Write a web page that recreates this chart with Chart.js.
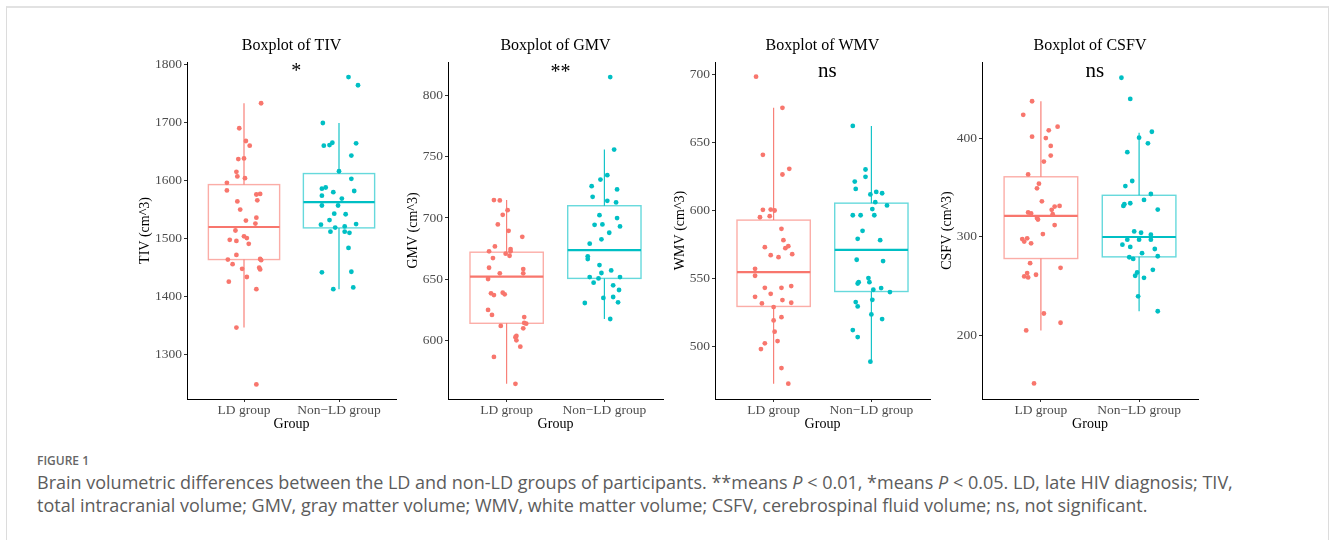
<!DOCTYPE html>
<html>
<head>
<meta charset="utf-8">
<script src="https://cdn.jsdelivr.net/npm/chart.js@4.4.0/dist/chart.umd.min.js"></script>
<style>
  body { margin: 0; background: #fff; width: 1330px; height: 540px; overflow: hidden; position: relative; font-family: "Open Sans", sans-serif; }
  #card { position: absolute; left: 6px; top: 6px; width: 1321px; height: 600px; border: 1px solid #dcdcdc; border-top: 2px solid #e2e2e2; }
  .panel { position: absolute; top: 30px; height: 405px; }
  #fig { position: absolute; left: 37px; top: 452px; font-size: 12px; font-weight: 600; color: #666; }
  #cap { position: absolute; left: 37px; top: 471px; width: 1280px; font-size: 18px; line-height: 23px; color: #5c5c5c; white-space: nowrap; }
</style>
</head>
<body>
<div id="card"></div>
<canvas id="tiv" class="panel" style="left:125px" width="275" height="405"></canvas>
<canvas id="gmv" class="panel" style="left:386px" width="281" height="405"></canvas>
<canvas id="wmv" class="panel" style="left:653px" width="281" height="405"></canvas>
<canvas id="csfv" class="panel" style="left:920px" width="282" height="405"></canvas>
<div id="fig">FIGURE 1</div>
<div id="cap">Brain volumetric differences between the LD and non-LD groups of participants. **means <i>P</i> &lt; 0.01, *means <i>P</i> &lt; 0.05. LD, late HIV diagnosis; TIV,<br>total intracranial volume; GMV, gray matter volume; WMV, white matter volume; CSFV, cerebrospinal fluid volume; ns, not significant.</div>
<script>
const groups = ['LD group', 'Non\u2212LD group'];
const colors = ['#F8766D', '#00BFC4'];
const boxEdge = ['rgba(248,118,109,0.6)', 'rgba(0,191,196,0.6)'];

// TIV
const tivTicks = [1300, 1400, 1500, 1600, 1700, 1800];
const tivLD = [1733, 1690, 1668, 1660, 1637, 1638, 1615, 1607, 1604, 1596, 1583, 1576, 1577, 1564, 1566, 1550, 1536, 1531, 1526, 1514, 1504, 1501, 1498, 1496, 1491, 1472, 1464, 1456, 1465, 1463, 1448, 1450, 1447, 1434, 1426, 1413, 1347, 1249];
const tivLDJit = [0.18, -0.05, 0.02, 0.06, -0.06, 0.0, -0.08, -0.07, 0.01, -0.18, -0.18, 0.13, 0.17, -0.07, 0.14, -0.04, 0.13, 0.02, 0.12, -0.09, 0.0, 0.03, -0.15, -0.08, 0.05, -0.08, -0.17, -0.12, 0.17, 0.18, -0.02, 0.16, 0.17, 0.03, -0.16, 0.13, -0.08, 0.13];
const tivNon = [1778, 1764, 1699, 1660, 1661, 1665, 1664, 1643, 1616, 1603, 1586, 1588, 1580, 1582, 1574, 1569, 1557, 1557, 1543, 1542, 1532, 1524, 1525, 1521, 1519, 1512, 1510, 1512, 1484, 1442, 1443, 1413, 1416];
const tivNonJit = [0.10, 0.20, -0.17, -0.16, -0.10, -0.07, 0.18, 0.13, 0.0, 0.13, -0.18, -0.14, -0.06, 0.16, -0.18, 0.03, -0.18, -0.01, -0.05, 0.07, -0.10, -0.19, 0.18, 0.06, -0.04, 0.06, 0.11, -0.09, 0.10, -0.18, 0.13, -0.06, 0.15];
const tivStats = [[1347, 1464, 1520, 1593, 1733], [1413, 1518.5, 1563, 1612, 1699]];

// GMV
const gmvTicks = [600, 650, 700, 750, 800];
const gmvLD = [714.6, 714.3, 706.4, 702.6, 694.7, 689.5, 684.6, 676.7, 674.6, 672.7, 672.7, 670.8, 669.1, 667.2, 659.3, 658.2, 654.7, 654.7, 650.1, 638.4, 637.0, 638.9, 637.6, 624.8, 620.7, 619.0, 614.2, 613.6, 611.7, 609.8, 603.5, 602.5, 600.0, 594.8, 586.4, 564.4];
const gmvLDJit = [-0.13, -0.07, 0.01, -0.04, -0.09, 0.02, 0.16, -0.12, 0.04, 0.04, -0.18, -0.01, 0.03, -0.14, -0.18, 0.17, -0.07, 0.17, -0.19, -0.16, -0.13, -0.04, -0.02, -0.19, -0.15, 0.18, 0.18, 0.20, -0.06, 0.17, 0.10, 0.09, 0.10, 0.14, -0.13, 0.09];
const gmvNon = [815.2, 755.9, 735.0, 731.4, 726.0, 723.3, 717.3, 714.0, 712.7, 702.3, 699.9, 693.1, 694.4, 694.7, 687.9, 682.5, 679.0, 668.6, 666.4, 661.5, 657.1, 655.0, 651.7, 651.7, 650.6, 647.1, 644.9, 641.1, 634.6, 635.4, 631.0, 630.5, 617.4];
const gmvNonJit = [0.06, 0.10, 0.03, -0.04, -0.13, 0.13, -0.12, 0.03, 0.12, -0.05, 0.13, 0.16, -0.10, -0.02, 0.05, -0.03, -0.15, -0.17, -0.17, -0.05, 0.07, -0.03, 0.16, -0.15, -0.06, -0.11, 0.09, 0.15, -0.01, 0.09, 0.14, -0.20, 0.06];
const gmvStats = [[564.4, 613.9, 652, 672, 714.6], [617.4, 650.6, 673.7, 710, 755.9]];

// WMV
const wmvTicks = [500, 550, 600, 650, 700];
const wmvLD = [698.5, 675.5, 640.9, 630.6, 626.4, 600.4, 600.6, 599.9, 594.9, 595.7, 586.4, 578.0, 572.9, 572.1, 573.6, 567.0, 565.5, 567.7, 556.9, 551.8, 542.9, 542.9, 544.2, 536.3, 538.5, 531.4, 533.9, 531.9, 528.7, 521.3, 518.9, 510.6, 503.7, 502.0, 497.8, 483.8, 472.3];
const wmvLDJit = [-0.18, 0.09, -0.11, 0.16, 0.09, -0.11, -0.03, 0.01, -0.14, -0.04, 0.08, 0.10, -0.09, 0.12, 0.15, -0.03, 0.05, 0.19, -0.19, -0.19, -0.09, 0.08, 0.18, -0.19, -0.03, -0.12, 0.09, 0.18, 0.0, 0.08, 0.0, 0.01, 0.04, -0.09, -0.13, 0.08, 0.15];
const wmvNon = [662.2, 630.1, 621.2, 624.7, 615.8, 613.6, 612.6, 611.7, 606.0, 603.6, 600.9, 596.4, 596.4, 596.4, 584.9, 579.0, 578.0, 563.6, 562.6, 550.1, 547.1, 547.1, 546.1, 541.5, 542.7, 539.8, 534.1, 532.4, 529.2, 523.3, 519.9, 511.8, 506.6, 488.5];
const wmvNonJit = [-0.19, -0.06, -0.17, -0.06, -0.16, 0.05, 0.11, -0.01, 0.04, 0.16, 0.01, -0.19, -0.11, 0.03, -0.09, -0.14, 0.09, -0.15, 0.12, -0.03, -0.02, -0.13, -0.14, 0.02, 0.10, 0.19, 0.01, -0.16, -0.14, 0.0, 0.11, -0.19, -0.14, -0.01];
const wmvStats = [[472.3, 529.2, 554.5, 592.8, 675.5], [488.5, 540.2, 570.9, 605.3, 662.2]];

// CSFV
const csfvTicks = [200, 300, 400];
const csfvLD = [437.7, 423.9, 401.7, 411.8, 408.1, 400.3, 392.3, 382.5, 376.4, 363.3, 353.9, 349.2, 336.0, 330.6, 331.3, 327.3, 324.6, 323.6, 322.9, 318.9, 317.5, 311.8, 302.7, 297.6, 298.3, 295.0, 293.3, 273.1, 268.4, 263.0, 261.3, 259.6, 258.6, 221.9, 212.5, 204.7, 150.8];
const csfvLDJit = [-0.09, -0.18, -0.09, 0.17, 0.08, 0.05, 0.10, 0.10, 0.03, -0.13, -0.02, -0.04, 0.01, 0.14, 0.19, 0.11, -0.13, -0.10, 0.12, -0.04, -0.03, 0.14, 0.02, -0.19, -0.14, -0.17, -0.10, -0.11, 0.20, -0.14, -0.05, -0.17, -0.13, 0.03, 0.20, -0.15, -0.07];
const csfvNon = [461.6, 440.1, 406.7, 400.7, 394.9, 385.9, 356.6, 351.5, 343.4, 337.4, 334.0, 333.0, 331.3, 327.6, 305.4, 304.0, 302.0, 297.0, 297.0, 297.0, 291.9, 289.6, 287.5, 283.2, 280.1, 279.1, 277.4, 263.6, 266.3, 260.3, 258.2, 239.4, 224.2];
const csfvNonJit = [-0.18, -0.09, 0.13, 0.0, 0.09, -0.12, -0.07, -0.14, 0.12, 0.05, -0.09, -0.15, -0.16, 0.19, -0.05, 0.02, 0.12, -0.12, 0.0, 0.12, -0.17, -0.09, 0.16, 0.03, 0.19, -0.10, -0.06, -0.02, 0.14, -0.04, 0.05, -0.01, 0.19];
const csfvStats = [[204.7, 277.8, 321.2, 360.9, 437.7], [224.2, 279.5, 299.7, 342.1, 405.7]];

const panels = [
  { id: 'tiv', title: 'Boxplot of TIV', yTitle: 'TIV (cm^3)', sig: '*', sigSize: 20, sigY: 47, range: [1224, 1804], ticks: tivTicks,
    pts: [[tivLD, tivLDJit], [tivNon, tivNonJit]], stats: tivStats, yPad: 11.6 },
  { id: 'gmv', title: 'Boxplot of GMV', yTitle: 'GMV (cm^3)', sig: '**', sigSize: 20, sigY: 48, range: [552, 827.5], ticks: gmvTicks,
    pts: [[gmvLD, gmvLDJit], [gmvNon, gmvNonJit]], stats: gmvStats, yPad: 18.6 },
  { id: 'wmv', title: 'Boxplot of WMV', yTitle: 'WMV (cm^3)', sig: 'ns', sigSize: 21, sigY: 47, range: [461, 709.3], ticks: wmvTicks,
    pts: [[wmvLD, wmvLDJit], [wmvNon, wmvNonJit]], stats: wmvStats, yPad: 18.6 },
  { id: 'csfv', title: 'Boxplot of CSFV', yTitle: 'CSFV (cm^3)', sig: 'ns', sigSize: 21, sigY: 47, range: [135, 477.6], ticks: csfvTicks,
    pts: [[csfvLD, csfvLDJit], [csfvNon, csfvNonJit]], stats: csfvStats, yPad: 18.6 }
];

const serif = "'Liberation Serif', 'Times New Roman', serif";

function makeDecor(p) {
  return {
    id: 'decor_' + p.id,
    beforeDatasetsDraw(chart) {
      const { ctx, scales: { x, y } } = chart;
      ctx.save();
      p.stats.forEach((s, i) => {
        const cx = x.getPixelForValue(i + 1);
        const half = x.getPixelForValue(i + 1 + 0.375) - cx;
        const [lo, q1, med, q3, hi] = s.map(v => y.getPixelForValue(v));
        ctx.strokeStyle = colors[i];
        ctx.lineWidth = 1.1;
        ctx.beginPath();
        ctx.moveTo(cx, hi); ctx.lineTo(cx, q3);
        ctx.moveTo(cx, q1); ctx.lineTo(cx, lo);
        ctx.stroke();
        ctx.strokeStyle = boxEdge[i];
        ctx.lineWidth = 1.4;
        ctx.strokeRect(cx - half, q3, half * 2, q1 - q3);
        ctx.strokeStyle = colors[i];
        ctx.lineWidth = 2.2;
        ctx.beginPath();
        ctx.moveTo(cx - half, med); ctx.lineTo(cx + half, med);
        ctx.stroke();
      });
      ctx.restore();
    },
    afterDraw(chart) {
      const { ctx, chartArea, scales: { x } } = chart;
      ctx.save();
      ctx.fillStyle = '#000';
      ctx.textAlign = 'center';
      ctx.textBaseline = 'middle';
      ctx.font = '16px ' + serif;
      ctx.fillText(p.title, (chartArea.left + chartArea.right) / 2, 16);
      ctx.textBaseline = 'alphabetic';
      ctx.font = p.sigSize + 'px ' + serif;
      ctx.fillText(p.sig, x.getPixelForValue(1.55), p.sigY);
      ctx.restore();
    }
  };
}

panels.forEach(p => {
  const datasets = p.pts.map(([vals, jit], i) => ({
    type: 'scatter',
    data: vals.map((v, k) => ({ x: i + 1 + jit[k], y: v })),
    backgroundColor: colors[i],
    borderWidth: 0,
    pointRadius: 2.4,
    pointHoverRadius: 2.4
  }));
  new Chart(document.getElementById(p.id), {
    type: 'scatter',
    data: { datasets },
    plugins: [makeDecor(p)],
    options: {
      responsive: false,
      animation: false,
      events: [],
      layout: { padding: { top: 32, right: 4, left: 0, bottom: 0 } },
      plugins: { legend: { display: false }, tooltip: { enabled: false }, title: { display: false } },
      scales: {
        x: {
          type: 'linear', min: 0.4, max: 2.6,
          afterBuildTicks: s => { s.ticks = [{ value: 1 }, { value: 2 }]; },
          afterFit: s => { s.height = 36; },
          ticks: { callback: v => groups[v - 1], color: '#4d4d4d', font: { family: serif, size: 13.5 }, padding: 0, maxRotation: 0, autoSkip: false },
          grid: { drawOnChartArea: false, drawTicks: true, tickLength: 3, color: '#333' },
          border: { display: true, color: '#000', width: 1 },
          title: { display: true, text: 'Group', color: '#000', font: { family: serif, size: 14 }, padding: { top: 0, bottom: 2.6 } }
        },
        y: {
          min: p.range[0], max: p.range[1],
          afterBuildTicks: s => { s.ticks = p.ticks.map(v => ({ value: v })); },
          afterFit: s => { s.width = 62; },
          ticks: { callback: v => String(v), color: '#4d4d4d', font: { family: serif, size: 13.5 }, padding: 2, autoSkip: false },
          grid: { drawOnChartArea: false, drawTicks: true, tickLength: 3, color: '#333' },
          border: { display: true, color: '#000', width: 1 },
          title: { display: true, text: p.yTitle, color: '#000', font: { family: serif, size: 14 }, padding: { top: p.yPad, bottom: 0 } }
        }
      }
    }
  });
});
</script>
</body>
</html>
